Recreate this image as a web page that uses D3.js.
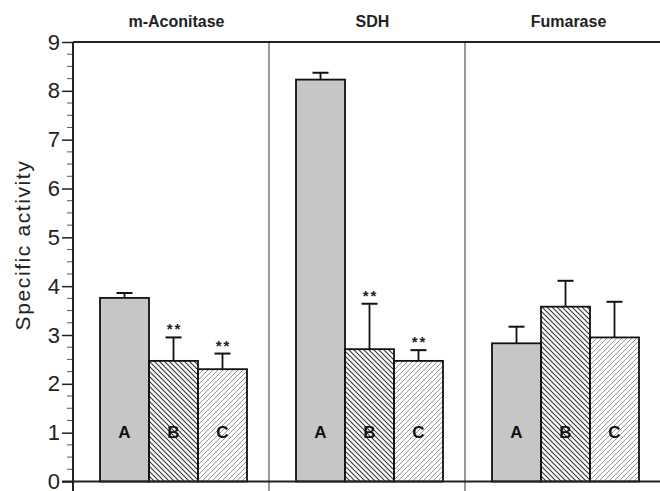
<!DOCTYPE html>
<html>
<head>
<meta charset="utf-8">
<script src="https://cdn.jsdelivr.net/npm/d3@7"></script>
<style>
  body { margin: 0; background: #fff; }
  svg { display: block; font-family: "Liberation Sans", Arial, sans-serif; }
</style>
</head>
<body>
<svg width="660" height="491"></svg>
<script>
// data
const enzymes = ["m-Aconitase", "SDH", "Fumarase"];
const groups = ["A", "B", "C"];
const means = [
    [3.76, 2.47, 2.30],
    [8.23, 2.71, 2.47],
    [2.83, 3.58, 2.95]
];
const errors = [
    [0.10, 0.48, 0.32],
    [0.14, 0.93, 0.22],
    [0.34, 0.53, 0.73]
];
const stars = [
    ["", "**", "**"],
    ["", "**", "**"],
    ["", "", ""]
];
const yTicks = [0, 1, 2, 3, 4, 5, 6, 7, 8, 9];

let svg = d3.select("svg");
let plotLeft = 73, plotRight = 661, plotTop = 42, plotBottom = 481.5;

let y = d3.scaleLinear().domain([0, 9]).range([plotBottom, plotTop]);
let panel = d3.scaleBand().domain(enzymes).range([plotLeft, plotRight]);
let bar = d3.scaleBand().domain(groups).range([27, 27 + 147]);

// hatch patterns
let defs = svg.append("defs");
function hatch(id, dir, color, w) {
    let p = defs.append("pattern")
        .attr("id", id).attr("patternUnits", "userSpaceOnUse")
        .attr("width", 5).attr("height", 5);
    if (dir > 0) {
        p.append("path").attr("d", "M0,0 L5,5 M-1,4 L1,6 M4,-1 L6,1");
    } else {
        p.append("path").attr("d", "M0,5 L5,0 M-1,1 L1,-1 M4,6 L6,4");
    }
    p.select("path").attr("stroke", color).attr("stroke-width", w);
}
hatch("hatchB", 1, "#333", 1.1);
hatch("hatchC", -1, "#8a8a8a", 0.9);
const fills = { A: "#c6c6c6", B: "url(#hatchB)", C: "url(#hatchC)" };

// panels
enzymes.forEach((name, i) => {
    let g = svg.append("g").attr("transform", "translate(" + panel(name) + ",0)");
    groups.forEach((k, j) => {
        let x0 = bar(k), bw = bar.bandwidth();
        let cx = x0 + bw / 2;
        // error bar (upper only)
        let yt = y(means[i][j] + errors[i][j]);
        g.append("line").attr("x1", cx).attr("x2", cx)
            .attr("y1", y(means[i][j])).attr("y2", yt)
            .attr("stroke", "#111").attr("stroke-width", 1.8);
        g.append("line").attr("x1", cx - 8).attr("x2", cx + 8)
            .attr("y1", yt).attr("y2", yt)
            .attr("stroke", "#111").attr("stroke-width", 2);
        g.append("rect")
            .attr("x", x0).attr("width", bw)
            .attr("y", y(means[i][j])).attr("height", y(0) - y(means[i][j]))
            .attr("fill", fills[k]).attr("stroke", "#111").attr("stroke-width", 1.8);
        g.append("text").attr("x", cx).attr("y", y(1.02) + 6)
            .attr("text-anchor", "middle").attr("font-weight", "bold")
            .attr("font-size", 17).attr("fill", "#111").text(k);
        if (stars[i][j]) {
            g.append("text").attr("x", cx + 1).attr("y", yt - 3)
                .attr("text-anchor", "middle").attr("font-size", 15)
                .attr("letter-spacing", 2)
                .attr("font-weight", "bold").attr("fill", "#222").text(stars[i][j]);
        }
    });
    g.append("text").attr("x", bar("B") + bar.bandwidth() / 2 + 3).attr("y", 27)
        .attr("text-anchor", "middle").attr("font-weight", "bold")
        .attr("font-size", 16).attr("fill", "#222").text(name);
    if (i > 0) {
        g.append("line").attr("x1", 0).attr("x2", 0).attr("y1", plotTop).attr("y2", 491)
            .attr("stroke", "#555").attr("stroke-width", 1.2);
    }
});

// y axis
let yAxis = d3.axisLeft(y).tickValues(yTicks).tickSize(11).tickPadding(2).tickFormat(d3.format("d"));
let ya = svg.append("g").attr("transform", "translate(" + plotLeft + ",0)").call(yAxis);
ya.select(".domain").remove();
ya.selectAll(".tick line").attr("stroke", "#222").attr("stroke-width", 1.5);
ya.selectAll(".tick text").attr("font-size", 22).attr("fill", "#222")
    .attr("font-family", "Liberation Sans, Arial, sans-serif");
let minor = d3.range(0, 9.001, 0.25).filter(v => Math.abs(v - Math.round(v)) > 0.01);
svg.append("g").selectAll("line").data(minor).enter().append("line")
    .attr("x1", plotLeft - 6).attr("x2", plotLeft)
    .attr("y1", d => y(d)).attr("y2", d => y(d))
    .attr("stroke", "#555").attr("stroke-width", 1);

// frame lines
svg.append("line").attr("x1", plotLeft).attr("x2", plotLeft).attr("y1", plotTop).attr("y2", 491)
    .attr("stroke", "#222").attr("stroke-width", 2);
svg.append("line").attr("x1", plotLeft).attr("x2", 660).attr("y1", plotTop).attr("y2", plotTop)
    .attr("stroke", "#222").attr("stroke-width", 2);
svg.append("line").attr("x1", plotLeft - 11).attr("x2", 660).attr("y1", y(0)).attr("y2", y(0))
    .attr("stroke", "#222").attr("stroke-width", 2);

svg.append("text").attr("transform", "translate(30,245) rotate(-90)")
    .attr("text-anchor", "middle").attr("font-size", 21).attr("letter-spacing", 1.6)
    .attr("fill", "#222")
    .text("Specific activity");
</script>
</body>
</html>
